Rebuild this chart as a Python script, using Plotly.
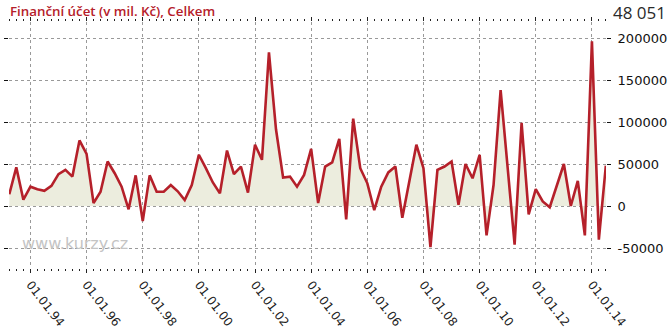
import pandas as pd
import plotly.graph_objects as go

start_quarter = "1993-04-01"
values = [
    14000, 46000, 7500,
    23000, 20000, 18000, 24000,
    38000, 43000, 35000, 78000,
    62000, 3500, 17000, 53000,
    39000, 23000, -4000, 36500,
    -18000, 36500, 17000, 17000,
    25000, 17500, 7000, 25000,
    61000, 45000, 28000, 15000,
    66000, 38000, 47000, 16000,
    73000, 55000, 183000, 91000,
    34000, 35000, 23000, 37000,
    68000, 3500, 47000, 52000,
    80000, -16000, 104000, 45000,
    27000, -5000, 23000, 40000,
    47000, -14000, 28000, 73000,
    45000, -49000, 43000, 47000,
    53000, 1500, 50000, 33000,
    61000, -35000, 25000, 138000,
    45000, -46000, 99000, -10000,
    20000, 5500, -1500, 23000,
    50000, 0, 30000, -35000,
    196000, -40000, 48051,
]
dates = pd.date_range(start_quarter, periods=len(values), freq="QS")

title_text = "Finanční účet (v mil. Kč), Celkem"
last_text = "48 051"
y_ticks = [200000, 150000, 100000, 50000, 0, -50000]

fig = go.Figure()
fig.add_trace(go.Scatter(
    x=dates, y=values, mode="lines", fill="tozeroy",
    fillcolor="#ecedde",
    line=dict(color="#b5202a", width=2.6),
    showlegend=False, hoverinfo="x+y",
))

fig.update_layout(
    width=670, height=335,
    margin=dict(l=9, r=64, t=22, b=67),
    paper_bgcolor="white", plot_bgcolor="white",
    font=dict(family="DejaVu Sans", color="#111"),
)
fig.update_xaxes(
    type="date",
    range=["1993-03-28", "2014-07-03"],
    tick0="1994-01-01", dtick="M24", tickformat="%d.%m.%y",
    tickangle=52,
    tickfont=dict(size=12, color="#222"),
    showgrid=True, gridcolor="#999", griddash="dot", gridwidth=1,
    ticks="outside", ticklen=4, tickcolor="#222",
    mirror="ticks",
    minor=dict(dtick="M3", ticks="outside", ticklen=2, tickcolor="#222", showgrid=False),
    showline=False, zeroline=False, automargin=False,
)
fig.update_yaxes(
    range=[-73810, 219048],
    tickvals=y_ticks, ticktext=[str(v) for v in y_ticks],
    side="right",
    tickfont=dict(size=13, color="#111"),
    ticklabelstandoff=4,
    showgrid=True, gridcolor="#999", griddash="dot", gridwidth=1,
    ticks="outside", ticklen=4, tickcolor="#111",
    mirror="ticks",
    showline=False, zeroline=False, automargin=False,
)

fig.add_annotation(
    text=title_text, xref="paper", yref="paper", x=-0.002, y=1.045,
    xanchor="left", yanchor="middle", showarrow=False,
    font=dict(family="Open Sans", size=13.3, color="#b5202a", weight=600),
)
fig.add_annotation(
    text=last_text, xref="paper", yref="paper", x=1.104, y=1.04,
    xanchor="right", yanchor="middle", showarrow=False,
    font=dict(family="Open Sans", size=17, color="#2a2a2a", weight=500),
)
fig.add_annotation(
    text="www.kurzy.cz", xref="paper", yref="paper", x=0.018, y=0.10,
    xanchor="left", yanchor="middle", showarrow=False,
    font=dict(family="DejaVu Sans", size=16, color="#c4c4c4"),
)

fig.write_html("out.html")
